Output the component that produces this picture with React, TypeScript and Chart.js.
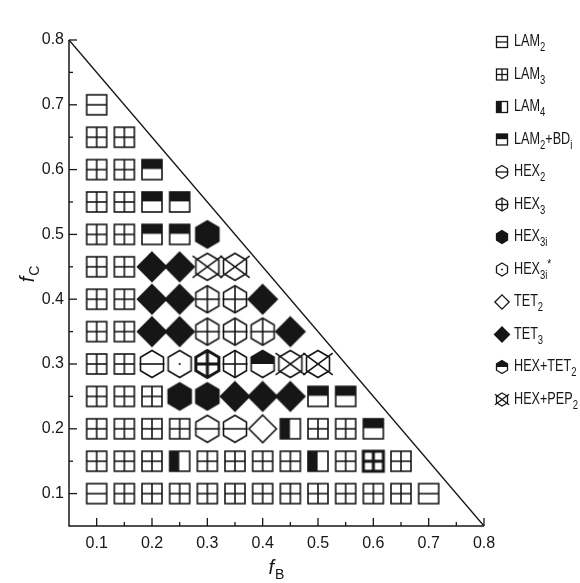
import React, { useEffect, useRef } from 'react';
import { Chart, registerables } from 'chart.js';
Chart.register(...registerables);

type P = [number, number];

// ---------- data ----------
const xTickValues = [0.1, 0.2, 0.3, 0.4, 0.5, 0.6, 0.7, 0.8];
const yTickValues = [0.1, 0.2, 0.3, 0.4, 0.5, 0.6, 0.7, 0.8];
const minorTickValues = [0.15, 0.25, 0.35, 0.45, 0.55, 0.65, 0.75];
const axisMin = 0.05;
const axisMax = 0.8;

const boundaryB = [0.05, 0.8];
const boundaryC = [0.8, 0.05];

const lam2: P[] = [[0.1, 0.7], [0.1, 0.1], [0.7, 0.1]];
const lam3: P[] = [
  [0.1, 0.65], [0.15, 0.65],
  [0.1, 0.6], [0.15, 0.6],
  [0.1, 0.55], [0.15, 0.55],
  [0.1, 0.5], [0.15, 0.5],
  [0.1, 0.45], [0.15, 0.45],
  [0.1, 0.4], [0.15, 0.4],
  [0.1, 0.35], [0.15, 0.35],
  [0.1, 0.3], [0.15, 0.3],
  [0.1, 0.25], [0.15, 0.25], [0.2, 0.25],
  [0.1, 0.2], [0.15, 0.2], [0.2, 0.2], [0.25, 0.2], [0.5, 0.2], [0.55, 0.2],
  [0.1, 0.15], [0.15, 0.15], [0.2, 0.15], [0.3, 0.15], [0.35, 0.15], [0.4, 0.15], [0.45, 0.15], [0.55, 0.15], [0.65, 0.15],
  [0.15, 0.1], [0.2, 0.1], [0.25, 0.1], [0.3, 0.1], [0.35, 0.1], [0.4, 0.1], [0.45, 0.1], [0.5, 0.1], [0.55, 0.1], [0.6, 0.1], [0.65, 0.1],
];
const lam3Bold: P[] = [[0.6, 0.15]];
const lam4: P[] = [[0.45, 0.2], [0.25, 0.15], [0.5, 0.15]];
const lam2bd: P[] = [[0.2, 0.6], [0.2, 0.55], [0.25, 0.55], [0.2, 0.5], [0.25, 0.5], [0.5, 0.25], [0.55, 0.25], [0.6, 0.2]];
const hex2: P[] = [[0.2, 0.3], [0.3, 0.2], [0.35, 0.2]];
const hex3: P[] = [[0.3, 0.4], [0.35, 0.4], [0.3, 0.35], [0.35, 0.35], [0.4, 0.35], [0.35, 0.3]];
const hex3Bold: P[] = [[0.3, 0.3]];
const hex3i: P[] = [[0.3, 0.5], [0.25, 0.25], [0.3, 0.25]];
const hex3iStar: P[] = [[0.25, 0.3]];
const tet2: P[] = [[0.4, 0.2]];
const tet3: P[] = [
  [0.2, 0.45], [0.25, 0.45], [0.2, 0.4], [0.25, 0.4], [0.4, 0.4],
  [0.2, 0.35], [0.25, 0.35], [0.45, 0.35], [0.35, 0.25], [0.4, 0.25], [0.45, 0.25],
];
const hexTet2: P[] = [[0.4, 0.3]];
const hexPep2: P[] = [[0.3, 0.45], [0.35, 0.45], [0.45, 0.3], [0.5, 0.3]];

type Seg = { t: string; sub?: boolean; sup?: boolean };
const legendKinds = ['LAM2', 'LAM3', 'LAM4', 'LAM2BD', 'HEX2', 'HEX3', 'HEX3i', 'HEX3iS', 'TET2', 'TET3', 'HEXTET2', 'HEXPEP2'];
const legendLabels: Seg[][] = [
  [{ t: 'LAM' }, { t: '2', sub: true }],
  [{ t: 'LAM' }, { t: '3', sub: true }],
  [{ t: 'LAM' }, { t: '4', sub: true }],
  [{ t: 'LAM' }, { t: '2', sub: true }, { t: '+BD' }, { t: 'i', sub: true }],
  [{ t: 'HEX' }, { t: '2', sub: true }],
  [{ t: 'HEX' }, { t: '3', sub: true }],
  [{ t: 'HEX' }, { t: '3i', sub: true }],
  [{ t: 'HEX' }, { t: '3i', sub: true }, { t: '*', sup: true }],
  [{ t: 'TET' }, { t: '2', sub: true }],
  [{ t: 'TET' }, { t: '3', sub: true }],
  [{ t: 'HEX+TET' }, { t: '2', sub: true }],
  [{ t: 'HEX+PEP' }, { t: '2', sub: true }],
];

// ---------- styling ----------
const INK = '#161616';
const FONT = "'Liberation Sans', Arial, sans-serif";
type Sz = { sq: number; hexW: number; hexH: number; dia: number; lw: number };
const MAIN: Sz = { sq: 20, hexW: 23, hexH: 27, dia: 29, lw: 1.6 };
const LEG: Sz = { sq: 11, hexW: 11, hexH: 13, dia: 15, lw: 1.3 };

function hexPath(ctx: CanvasRenderingContext2D, cx: number, cy: number, w: number, h: number) {
  ctx.beginPath();
  ctx.moveTo(cx, cy - h / 2);
  ctx.lineTo(cx + w / 2, cy - h / 4);
  ctx.lineTo(cx + w / 2, cy + h / 4);
  ctx.lineTo(cx, cy + h / 2);
  ctx.lineTo(cx - w / 2, cy + h / 4);
  ctx.lineTo(cx - w / 2, cy - h / 4);
  ctx.closePath();
}
function diaPath(ctx: CanvasRenderingContext2D, cx: number, cy: number, d: number) {
  ctx.beginPath();
  ctx.moveTo(cx, cy - d / 2);
  ctx.lineTo(cx + d / 2, cy);
  ctx.lineTo(cx, cy + d / 2);
  ctx.lineTo(cx - d / 2, cy);
  ctx.closePath();
}

function drawMarker(ctx: CanvasRenderingContext2D, kind: string, cx: number, cy: number, s: Sz, bold = false) {
  ctx.save();
  ctx.lineWidth = bold ? s.lw * 1.9 : s.lw;
  ctx.strokeStyle = INK;
  ctx.fillStyle = INK;
  const q = s.sq, hw = s.hexW, hh = s.hexH, d = s.dia;
  const L = cx - q / 2, T = cy - q / 2;
  const line = (x1: number, y1: number, x2: number, y2: number) => {
    ctx.beginPath(); ctx.moveTo(x1, y1); ctx.lineTo(x2, y2); ctx.stroke();
  };
  switch (kind) {
    case 'LAM2': ctx.strokeRect(L, T, q, q); line(L, cy, L + q, cy); break;
    case 'LAM3': ctx.strokeRect(L, T, q, q); line(L, cy, L + q, cy); line(cx, T, cx, T + q); break;
    case 'LAM4': ctx.fillRect(L, T, q * 0.48, q); ctx.strokeRect(L, T, q, q); break;
    case 'LAM2BD': ctx.fillRect(L, T, q, q * 0.47); ctx.strokeRect(L, T, q, q); break;
    case 'HEX2': hexPath(ctx, cx, cy, hw, hh); ctx.stroke(); line(cx - hw / 2 - 1, cy, cx + hw / 2 + 1, cy); break;
    case 'HEX3': hexPath(ctx, cx, cy, hw, hh); ctx.stroke(); line(cx - hw / 2 - 1, cy, cx + hw / 2 + 1, cy); line(cx, cy - hh / 2, cx, cy + hh / 2); break;
    case 'HEX3i': hexPath(ctx, cx, cy, hw, hh); ctx.fill(); ctx.stroke(); break;
    case 'HEX3iS':
      hexPath(ctx, cx, cy, hw, hh); ctx.stroke();
      ctx.beginPath(); ctx.arc(cx, cy, Math.max(0.9, s.lw * 0.7), 0, Math.PI * 2); ctx.fill(); break;
    case 'TET2': diaPath(ctx, cx, cy, d * 0.95); ctx.stroke(); break;
    case 'TET3': diaPath(ctx, cx, cy, d); ctx.fill(); ctx.stroke(); break;
    case 'HEXTET2':
      ctx.save(); hexPath(ctx, cx, cy, hw, hh); ctx.clip();
      ctx.fillRect(cx - hw, cy - hh, hw * 2, hh); ctx.restore();
      hexPath(ctx, cx, cy, hw, hh); ctx.stroke(); break;
    case 'HEXPEP2': {
      hexPath(ctx, cx, cy, hw, hh); ctx.stroke();
      const ex = hw * 0.14, ey = hh * 0.1;
      line(cx - hw / 2 - ex, cy - hh / 2 + ey, cx + hw / 2 + ex, cy + hh / 2 - ey);
      line(cx - hw / 2 - ex, cy + hh / 2 - ey, cx + hw / 2 + ex, cy - hh / 2 + ey);
      break;
    }
  }
  ctx.restore();
}

function markerCanvas(kind: string, s: Sz, bold = false): HTMLCanvasElement {
  const c = document.createElement('canvas');
  c.width = 40; c.height = 40;
  const ctx = c.getContext('2d')!;
  drawMarker(ctx, kind, 20, 20, s, bold);
  return c;
}

function toXY(pts: P[]) { return pts.map(([x, y]) => ({ x, y })); }

// draws text with sub/superscripts, horizontally condensed by `squeeze`
function drawSubText(ctx: CanvasRenderingContext2D, segs: Seg[], x: number, y: number, size: number, squeeze: number) {
  ctx.save();
  ctx.translate(x, y);
  ctx.scale(squeeze, 1);
  let cx = 0;
  for (const sg of segs) {
    if (sg.sub) {
      ctx.font = `${Math.round(size * 0.72)}px ${FONT}`;
      ctx.fillText(sg.t, cx, size * 0.36);
    } else if (sg.sup) {
      ctx.font = `${Math.round(size * 0.8)}px ${FONT}`;
      ctx.fillText(sg.t, cx, -size * 0.3);
    } else {
      ctx.font = `${size}px ${FONT}`;
      ctx.fillText(sg.t, cx, 0);
    }
    cx += ctx.measureText(sg.t).width;
  }
  ctx.restore();
}

const decorPlugin = {
  id: 'decor',
  afterDraw(chart: any) {
    const ctx: CanvasRenderingContext2D = chart.ctx;
    const xs = chart.scales.x, ys = chart.scales.y;
    const { left, right, top, bottom } = chart.chartArea;
    ctx.save();
    ctx.strokeStyle = INK;
    ctx.lineWidth = 1.5;
    ctx.beginPath();
    ctx.moveTo(left, top); ctx.lineTo(left, bottom); ctx.lineTo(right, bottom);
    ctx.stroke();
    ctx.lineWidth = 1.3;
    const tick = (v: number, len: number, axis: 'x' | 'y') => {
      ctx.beginPath();
      if (axis === 'x') {
        const px = xs.getPixelForValue(v);
        ctx.moveTo(px, bottom); ctx.lineTo(px, bottom - len);
      } else {
        const py = ys.getPixelForValue(v);
        ctx.moveTo(left, py); ctx.lineTo(left + len, py);
      }
      ctx.stroke();
    };
    xTickValues.forEach(v => tick(v, 8, 'x'));
    minorTickValues.forEach(v => tick(v, 4, 'x'));
    yTickValues.forEach(v => tick(v, 8, 'y'));
    minorTickValues.forEach(v => tick(v, 4, 'y'));

    // axis titles
    ctx.fillStyle = INK;
    ctx.textBaseline = 'alphabetic';
    const title = (main: string, sub: string, cx: number, cy: number, rot: number) => {
      ctx.save();
      ctx.translate(cx, cy);
      ctx.rotate(rot);
      ctx.font = `italic 20px ${FONT}`;
      const w1 = ctx.measureText(main).width;
      ctx.font = `14px ${FONT}`;
      const w2 = ctx.measureText(sub).width;
      const sx = -(w1 + w2 + 1) / 2;
      ctx.font = `italic 20px ${FONT}`;
      ctx.fillText(main, sx, 0);
      ctx.font = `14px ${FONT}`;
      ctx.fillText(sub, sx + w1 + 1, 5);
      ctx.restore();
    };
    title('f', 'B', (left + right) / 2, 574, 0);
    title('f', 'C', 34, 274, -Math.PI / 2);

    // legend
    ctx.textBaseline = 'middle';
    legendKinds.forEach((k, i) => {
      const y = 42 + i * 32.5;
      drawMarker(ctx, k, 502, y, LEG);
      ctx.fillStyle = INK;
      drawSubText(ctx, legendLabels[i], 514, y, 16, 0.79);
    });
    ctx.restore();
  },
};

export default function App() {
  const ref = useRef<HTMLCanvasElement>(null);
  useEffect(() => {
    document.body.style.margin = '0';
    const canvas = ref.current!;
    const mk = (kind: string, pts: P[], bold = false) => ({
      type: 'scatter' as const,
      data: toXY(pts),
      pointStyle: markerCanvas(kind, MAIN, bold),
      pointRadius: 10,
      order: 1,
    });
    const chart = new Chart(canvas, {
      type: 'scatter',
      data: {
        datasets: [
          {
            type: 'line' as const,
            data: boundaryB.map((b, i) => ({ x: b, y: boundaryC[i] })),
            borderColor: INK,
            borderWidth: 1.3,
            pointRadius: 0,
            showLine: true,
            order: 2,
          } as any,
          mk('LAM2', lam2),
          mk('LAM3', lam3),
          mk('LAM3', lam3Bold, true),
          mk('LAM4', lam4),
          mk('LAM2BD', lam2bd),
          mk('HEX2', hex2),
          mk('HEX3', hex3),
          mk('HEX3', hex3Bold, true),
          mk('HEX3i', hex3i),
          mk('HEX3iS', hex3iStar),
          mk('TET2', tet2),
          mk('TET3', tet3),
          mk('HEXTET2', hexTet2),
          mk('HEXPEP2', hexPep2),
        ],
      },
      options: {
        animation: false,
        responsive: false,
        events: [],
        clip: false as any,
        layout: { padding: { left: 0, top: 40, right: 96, bottom: 0 } },
        plugins: { legend: { display: false }, tooltip: { enabled: false } },
        scales: {
          x: {
            type: 'linear',
            min: axisMin,
            max: axisMax,
            afterBuildTicks: (s: any) => { s.ticks = xTickValues.map(v => ({ value: v })); },
            afterFit: (s: any) => { s.height = 57; },
            grid: { display: false, drawTicks: false },
            border: { display: false },
            ticks: {
              color: INK,
              padding: 8,
              font: { family: FONT, size: 16 },
              callback: (v: any) => Number(v).toFixed(1),
            },
          },
          y: {
            type: 'linear',
            min: axisMin,
            max: axisMax,
            afterBuildTicks: (s: any) => { s.ticks = yTickValues.map(v => ({ value: v })); },
            afterFit: (s: any) => { s.width = 69; },
            grid: { display: false, drawTicks: false },
            border: { display: false },
            ticks: {
              color: INK,
              padding: 5,
              font: { family: FONT, size: 16 },
              callback: (v: any) => Number(v).toFixed(1),
            },
          },
        },
      },
      plugins: [decorPlugin],
    });
    return () => chart.destroy();
  }, []);
  return (
    <div style={{ width: 580, height: 583, background: '#fff' }}>
      <canvas ref={ref} width={580} height={583} style={{ display: 'block' }} />
    </div>
  );
}
